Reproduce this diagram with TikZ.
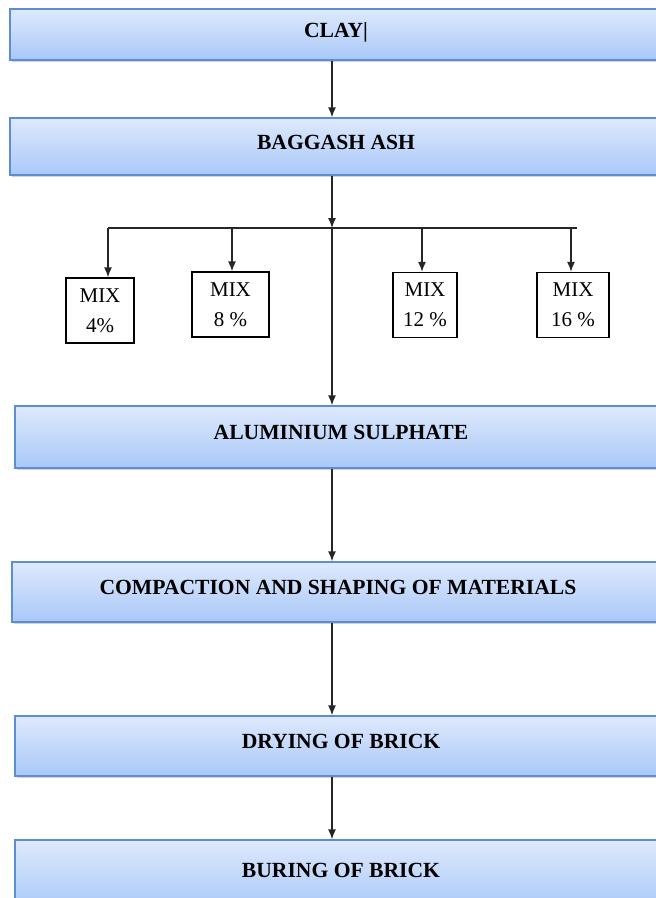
\documentclass[tikz,border=0pt]{standalone}
\usepackage{fontspec}
\setmainfont{Liberation Serif}
\usepackage{xcolor}
\usetikzlibrary{arrows.meta,shadows,positioning}
\definecolor{StageTop}{HTML}{DEE9FC}
\definecolor{StageBottom}{HTML}{A9C8F8}
\definecolor{StageLine}{HTML}{5E8ED2}
\tikzset{
  every node/.style={
    font=\fontsize{21}{25}\selectfont
  },
  stage/.style={
    shape=rectangle,
    minimum width=652pt,
    draw=StageLine,
    line width=1.3pt,
    top color=StageTop,
    bottom color=StageBottom,
    drop shadow={shadow xshift=1.5pt,shadow yshift=-2pt,opacity=0.35},
    text depth=9pt,
    font=\fontsize{21.6}{25}\selectfont\bfseries
  },
  mixbox/.style={
    shape=rectangle,
    draw=black,
    line width=1.3pt,
    inner sep=0pt,
    minimum height=65pt,
    align=center,
    font=\fontsize{21}{30}\selectfont
  },
  flow/.style={
    draw=black!85,
    line width=1.3pt,
    -{Latex[length=10pt,width=8pt]}
  },
  rail/.style={
    draw=black!85,
    line width=1.3pt
  }
}

\begin{document}
\begin{tikzpicture}[x=1pt,y=-1pt]
\useasboundingbox (0,0) rectangle (656,898);
\clip (0,0) rectangle (656,898);

% main stages
\node [stage,minimum height=51pt] (clay) at (336,34.5) {CLAY|};
\node [stage,minimum height=57pt] (ash) at (336,146.5) {BAGGASH ASH};
\node [stage,minimum height=62pt] (alum) at (341,437) {ALUMINIUM SULPHATE};
\node [stage,minimum height=60pt] (comp) at (338,592) {COMPACTION AND SHAPING OF MATERIALS};
\node [stage,minimum height=60pt] (dry) at (341,746) {DRYING OF BRICK};
\node [stage,minimum height=70pt] (bur) at (341,875) {BURING OF BRICK};

% mix proportions
\node [mixbox,minimum width=68pt] (mix4) at (100,310.5) {MIX\\4\%};
\node [mixbox,minimum width=77pt] (mix8) at (230.5,304.5) {MIX\\8 \%};
\node [mixbox,minimum width=64pt] (mix12) at (425,305) {MIX\\12 \%};
\node [mixbox,minimum width=72pt] (mix16) at (573,305) {MIX\\16 \%};

% split rail
\coordinate (split) at (332,228);
\coordinate (railL) at (108,228);
\coordinate (railR) at (577,228);
\draw [rail] (railL) -- (railR);

\draw [flow] (clay.south -| split) -- (ash.north -| split);
\draw [flow] (ash.south -| split) -- (split);
\draw [flow] (split) -- (alum.north -| split);
\draw [flow] (railL) -- (mix4.north -| railL);
\draw [flow] (split -| 232,0) -- (mix8.north -| 232,0);
\draw [flow] (split -| 422,0) -- (mix12.north -| 422,0);
\draw [flow] (split -| 571,0) -- (mix16.north -| 571,0);
\draw [flow] (alum.south -| split) -- (comp.north -| split);
\draw [flow] (comp.south -| split) -- (dry.north -| split);
\draw [flow] (dry.south -| split) -- (bur.north -| split);

\end{tikzpicture}
\end{document}
